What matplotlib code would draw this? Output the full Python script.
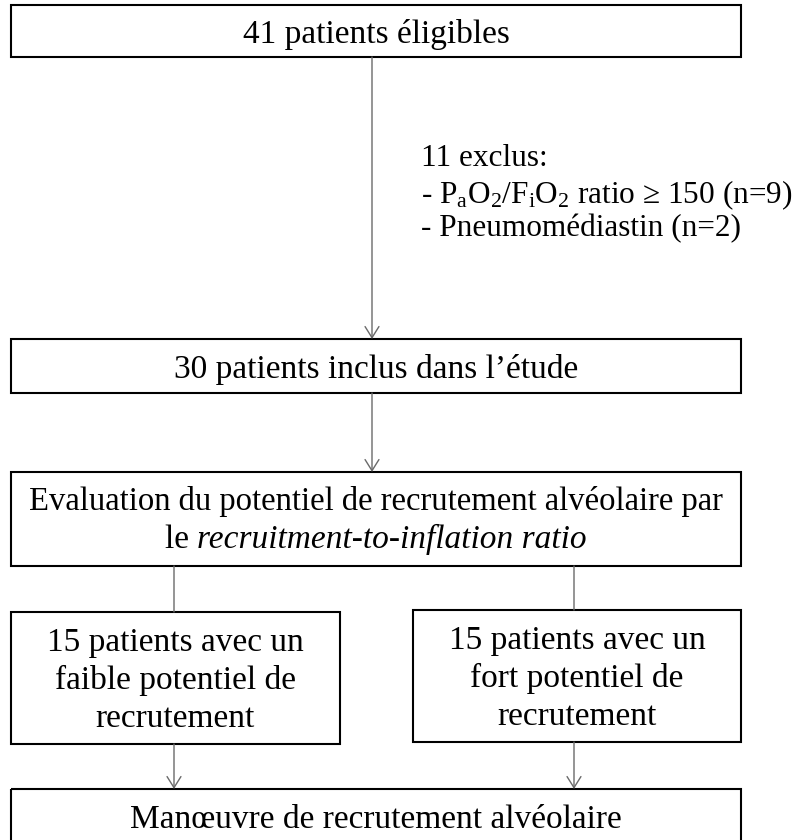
import matplotlib.pyplot as plt
from matplotlib.patches import Rectangle

plt.rcParams['font.family'] = ['Liberation Serif', 'DejaVu Serif']
plt.rcParams['mathtext.fontset'] = 'custom'
plt.rcParams['mathtext.rm'] = 'Liberation Serif'
plt.rcParams['mathtext.it'] = 'Liberation Serif:italic'

# textes des boîtes
box_eligibles = "41 patients éligibles"
box_inclus = "30 patients inclus dans l\u2019étude"
box_eval_l1 = "Evaluation du potentiel de recrutement alvéolaire par"
box_eval_l2a = "le "
box_eval_l2b = "recruitment-to-inflation ratio"
box_faible = ["15 patients avec un", "faible potentiel de", "recrutement"]
box_fort = ["15 patients avec un", "fort potentiel de", "recrutement"]
box_manoeuvre = "Manœuvre de recrutement alvéolaire"
exclus = ["11 exclus:",
          r"- $\mathrm{P_aO_2/F_iO_2}$ ratio ≥ 150 (n=9)",
          "- Pneumomédiastin (n=2)"]

FS = 24
W, H = 807, 840

fig = plt.figure(figsize=(W / 100, H / 100), dpi=100)
ax = fig.add_axes([0, 0, 1, 1])
ax.set_xlim(0, W)
ax.set_ylim(H, 0)
ax.axis('off')


def box(x0, y0, x1, y1):
    ax.add_patch(Rectangle((x0, y0), x1 - x0, y1 - y0, fill=False,
                           edgecolor='black', lw=1.5, zorder=3))


def arrow(x, y0, y1, head=True):
    style = '->,head_length=0.4,head_width=0.25' if head else '-'
    ax.annotate('', xy=(x, y1), xytext=(x, y0),
                arrowprops=dict(arrowstyle=style, color='#6a6a6a', lw=1.0,
                                shrinkA=0, shrinkB=0, mutation_scale=20))


# boîtes
box(11, 5, 741, 57)
box(11, 339, 741, 393)
box(11, 472, 741, 566)
box(11, 612, 340, 744)
box(413, 610, 741, 742)
box(11, 789, 741, 842)

# flèches
arrow(372, 57, 339)
arrow(372, 393, 472)
arrow(174, 566, 612, head=False)
arrow(574, 566, 610, head=False)
arrow(174, 744, 789)
arrow(574, 742, 789)

# textes
ax.text(376, 43, box_eligibles, fontsize=FS, ha='center', va='baseline')
ax.text(376, 378, box_inclus, fontsize=FS, ha='center', va='baseline')
ax.text(376, 510, box_eval_l1, fontsize=FS - 0.5, ha='center', va='baseline')

r = fig.canvas.get_renderer()
ta = ax.text(0, 548, box_eval_l2a, fontsize=FS, va='baseline')
tb = ax.text(0, 548, box_eval_l2b, fontsize=FS, style='italic', va='baseline')
wa = ta.get_window_extent(r).width
wb = tb.get_window_extent(r).width
x_start = 376 - (wa + wb) / 2
ta.set_x(x_start)
tb.set_x(x_start + wa)

for i, line in enumerate(box_faible):
    ax.text(175.5, 651 + 38 * i, line, fontsize=FS, ha='center', va='baseline')
for i, line in enumerate(box_fort):
    ax.text(577, 649 + 38 * i, line, fontsize=FS, ha='center', va='baseline')

ax.text(376, 828, box_manoeuvre, fontsize=FS, ha='center', va='baseline')

for y, line in zip([166, 203, 236], exclus):
    ax.text(421, y, line, fontsize=FS - 1.5, ha='left', va='baseline')

fig.savefig('out.png', dpi=100)
